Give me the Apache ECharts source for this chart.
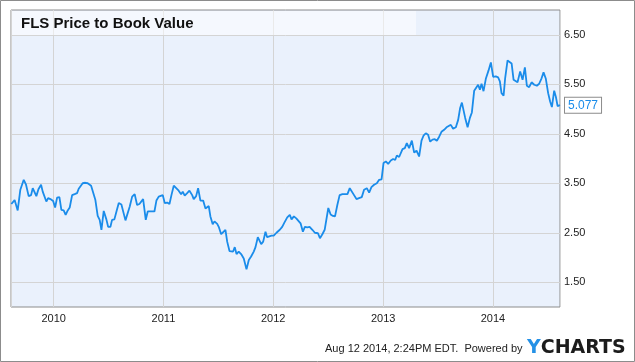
<!DOCTYPE html>
<html><head><meta charset="utf-8">
<script src="https://cdn.jsdelivr.net/npm/echarts@6/dist/echarts.min.js"></script>
<style>html,body{margin:0;padding:0;background:#fff}#c{width:635px;height:362px}</style>
</head><body><div id="c"></div>
<script>
// Dates as decimal years
const years = [
2009.614,2009.644,2009.672,2009.696,2009.727,2009.748,2009.772,2009.794,2009.809,2009.827,
2009.842,2009.861,2009.885,2009.900,2009.918,2009.933,2009.949,2009.970,2009.995,2010.013,
2010.031,2010.052,2010.070,2010.091,2010.109,2010.128,2010.146,2010.168,2010.191,2010.213,
2010.228,2010.243,2010.264,2010.289,2010.310,2010.325,2010.341,2010.359,2010.380,2010.401,
2010.419,2010.435,2010.456,2010.480,2010.496,2010.517,2010.532,2010.553,2010.572,2010.593,
2010.617,2010.654,2010.669,2010.693,2010.715,2010.738,2010.760,2010.781,2010.799,2010.815,
2010.839,2010.857,2010.882,2010.918,2010.936,2010.957,2010.973,2010.994,2011.012,2011.034,
2011.055,2011.073,2011.094,2011.112,2011.139,2011.161,2011.176,2011.194,2011.216,2011.237,
2011.262,2011.276,2011.298,2011.316,2011.337,2011.362,2011.383,2011.398,2011.413,2011.428,
2011.449,2011.465,2011.490,2011.504,2011.526,2011.544,2011.565,2011.581,2011.602,2011.620,
2011.635,2011.650,2011.666,2011.686,2011.708,2011.732,2011.757,2011.778,2011.799,2011.823,
2011.839,2011.860,2011.875,2011.891,2011.909,2011.930,2011.945,2011.960,2011.985,2012.005,
2012.030,2012.060,2012.082,2012.103,2012.128,2012.151,2012.167,2012.188,2012.210,2012.228,
2012.249,2012.270,2012.288,2012.310,2012.331,2012.356,2012.379,2012.407,2012.425,2012.447,
2012.468,2012.486,2012.501,2012.522,2012.543,2012.562,2012.583,2012.604,2012.629,2012.653,
2012.675,2012.696,2012.714,2012.735,2012.757,2012.780,2012.805,2012.826,2012.851,2012.872,
2012.893,2012.917,2012.942,2012.963,2012.985,2013.003,2013.024,2013.045,2013.069,2013.090,
2013.109,2013.124,2013.145,2013.160,2013.176,2013.197,2013.215,2013.236,2013.261,2013.282,
2013.304,2013.327,2013.349,2013.367,2013.388,2013.409,2013.428,2013.449,2013.470,2013.489,
2013.510,2013.531,2013.555,2013.577,2013.595,2013.616,2013.637,2013.662,2013.683,2013.701,
2013.717,2013.732,2013.747,2013.769,2013.790,2013.808,2013.829,2013.847,2013.865,2013.881,
2013.896,2013.914,2013.935,2013.960,2013.981,2014.002,2014.026,2014.047,2014.063,2014.078,
2014.097,2014.111,2014.133,2014.148,2014.170,2014.188,2014.202,2014.224,2014.248,2014.270,
2014.291,2014.309,2014.330,2014.352,2014.376,2014.400,2014.421,2014.443,2014.461,2014.482,
2014.503,2014.521,2014.537,2014.558,2014.573,2014.589,2014.611
];
const pbValues = [
3.08,3.16,2.95,3.37,3.57,3.47,3.24,3.26,3.40,3.37,
3.24,3.38,3.47,3.33,3.31,3.13,3.20,3.18,3.14,3.01,
3.21,3.22,2.96,2.95,2.86,2.95,3.01,3.26,3.28,3.30,
3.39,3.40,3.50,3.51,3.50,3.52,3.45,3.45,3.16,2.84,
2.76,2.56,2.94,2.77,2.62,2.62,2.76,2.77,2.93,3.10,
3.07,2.75,2.73,3.03,3.23,3.28,3.06,3.08,3.06,3.18,
2.76,2.93,2.93,2.93,3.15,3.23,3.26,3.26,3.10,3.11,
3.08,3.26,3.45,3.42,3.35,3.28,3.33,3.25,3.30,3.35,
3.26,3.18,3.24,3.40,3.15,3.15,2.99,2.96,3.04,2.83,
2.67,2.73,2.68,2.62,2.47,2.50,2.56,2.32,2.13,2.17,
2.12,2.21,2.07,2.12,2.07,1.98,1.76,1.95,2.02,2.12,
2.21,2.41,2.37,2.27,2.32,2.52,2.41,2.44,2.44,2.44,
2.50,2.56,2.62,2.71,2.81,2.86,2.77,2.83,2.79,2.83,
2.69,2.52,2.62,2.61,2.62,2.56,2.50,2.49,2.39,2.47,
2.56,2.52,3.00,2.87,2.84,2.83,3.06,3.26,3.28,3.28,
3.28,3.40,3.38,3.26,3.18,3.20,3.22,3.37,3.40,3.31,
3.42,3.47,3.50,3.57,3.58,3.91,3.94,3.89,3.96,3.99,
3.97,4.06,4.03,4.04,4.19,4.21,4.31,4.21,4.36,4.12,
4.16,4.04,4.36,4.46,4.51,4.48,4.34,4.38,4.39,4.36,
4.44,4.54,4.58,4.63,4.59,4.68,4.60,4.63,4.78,5.02,
5.13,5.09,4.82,4.63,4.82,4.93,5.37,5.40,5.49,5.39,
5.51,5.36,5.61,5.78,5.94,5.65,5.66,5.64,5.56,5.32,
5.27,5.62,5.98,5.94,5.92,5.59,5.62,5.54,5.76,5.59,
5.84,5.47,5.44,5.54,5.49,5.47,5.51,5.62,5.74,5.61,
5.32,5.15,5.04,5.37,5.25,5.06,5.077
];
const yTickLabels = ['1.50','2.50','3.50','4.50','5.50','6.50'];
const xTickLabels = ['2010','2011','2012','2013','2014'];
const titleText = 'FLS Price to Book Value';
const footerText = 'Aug 12 2014, 2:24PM EDT.  Powered by';

function yearToTime(y) {
  const yr = Math.floor(y);
  const s = Date.UTC(yr, 0, 1), e = Date.UTC(yr + 1, 0, 1);
  return s + (y - yr) * (e - s);
}
const seriesData = years.map((y, i) => [yearToTime(y), pbValues[i]]);
const lastPoint = seriesData[seriesData.length - 1];

const chart = echarts.init(document.getElementById('c'), null, {renderer: 'canvas'});
const lineColor = '#1a8cea';
chart.setOption({
  useUTC: true,
  animation: false,
  backgroundColor: '#ffffff',
  grid: {
    left: 11, top: 10, right: 75, bottom: 55,
    show: true, backgroundColor: '#eaf1fc', borderColor: '#8c8c8c', borderWidth: 1
  },
  xAxis: {
    type: 'time',
    min: Date.UTC(2009, 7, 12),
    max: Date.UTC(2014, 7, 12),
    splitNumber: 4,
    minInterval: 365 * 86400000,
    axisLine: {show: false},
    axisTick: {show: false},
    axisLabel: {
      color: '#222', fontSize: 11, fontFamily: '"Liberation Sans", Arial, sans-serif', margin: 6,
      formatter: function (v) {
        const d = new Date(v);
        const y = String(d.getUTCFullYear());
        return (d.getUTCMonth() === 0 && d.getUTCDate() === 1 && xTickLabels.indexOf(y) >= 0) ? y : '';
      }
    },
    splitLine: {show: true, lineStyle: {color: '#d4d4d4', width: 1}}
  },
  yAxis: {
    type: 'value',
    position: 'right',
    min: 1, max: 7, interval: 0.5,
    axisLine: {show: false},
    axisTick: {show: false},
    axisLabel: {
      color: '#222', fontSize: 11, fontFamily: '"Liberation Sans", Arial, sans-serif', margin: 4,
      formatter: function (v) {
        const s = v.toFixed(2);
        return yTickLabels.indexOf(s) >= 0 ? s : '';
      }
    },
    splitLine: {show: true, lineStyle: {color: ['rgba(0,0,0,0)', '#d4d4d4'], width: 1}}
  },
  series: [{
    type: 'line',
    data: seriesData,
    showSymbol: false,
    symbol: 'none',
    lineStyle: {color: lineColor, width: 1.8},
    itemStyle: {color: lineColor},
    endLabel: {
      show: true,
      formatter: function (p) { return p.value[1].toFixed(3); },
      color: lineColor,
      fontSize: 12,
      fontFamily: '"Liberation Sans", Arial, sans-serif',
      backgroundColor: '#ffffff',
      borderColor: '#8c8c8c',
      borderWidth: 1,
      padding: [2, 3, 1, 3],
      distance: 5
    },
    markPoint: {
      silent: true,
      z: 20,
      symbol: 'path://M5,0 L0,5 L5,10 Z',
      symbolSize: [5, 10],
      symbolOffset: [3.5, 0],
      itemStyle: {color: '#ffffff', borderColor: '#8c8c8c', borderWidth: 1},
      label: {show: false},
      data: [{coord: lastPoint}]
    }
  }],
  graphic: [
    {type: 'rect', z: 1, silent: true, shape: {x: 12, y: 11, width: 404, height: 24},
     style: {fill: 'rgba(255,255,255,0.5)'}},
    {type: 'text', z: 10, left: 21, top: 16,
     style: {text: titleText, font: 'bold 15px "Liberation Sans", Arial, sans-serif', fill: '#111'}},
    {type: 'rect', z: 10, silent: true, shape: {x: 0.5, y: 0.5, width: 634, height: 361},
     style: {fill: 'none', stroke: '#8c8c8c', lineWidth: 1}},
    {type: 'text', z: 10, left: 325, top: 343,
     style: {text: footerText, font: '11px "Liberation Sans", Arial, sans-serif', fill: '#222'}},
    {type: 'text', z: 10, left: 527, top: 339,
     style: {
       text: '{y|Y}{c|CHARTS}',
       rich: {
         y: {font: 'bold 19px "DejaVu Sans", sans-serif', fill: '#2591e6'},
         c: {font: 'bold 19px "DejaVu Sans", sans-serif', fill: '#1c1c1c'}
       }
     }}
  ]
});
</script>
</body></html>
